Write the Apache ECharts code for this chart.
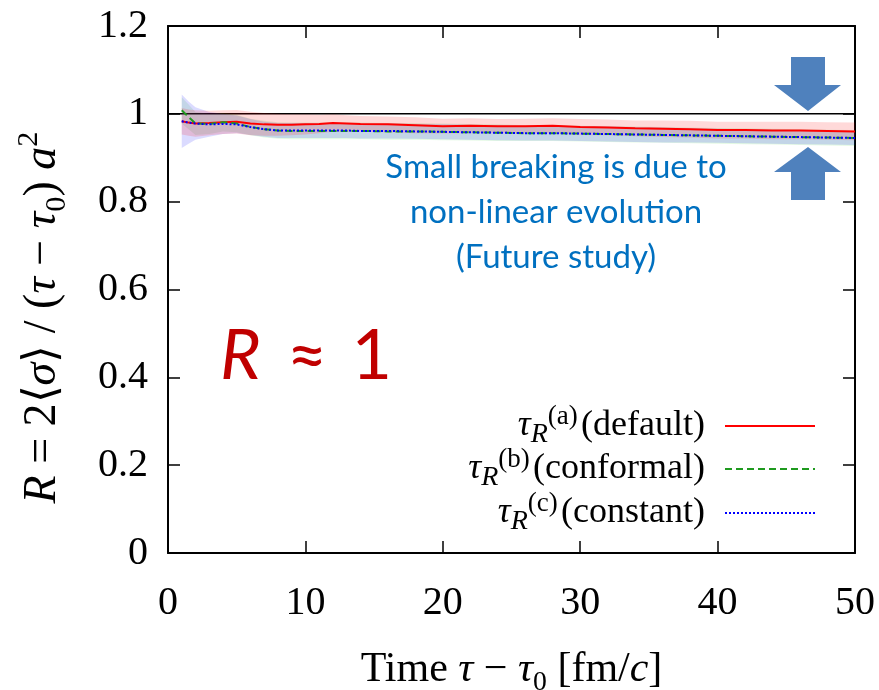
<!DOCTYPE html>
<html style="height: 100%" lang="en">
<head>
    <meta charset="UTF-8">
    <title>R vs time</title>
</head>
<body style="height: 100%; margin: 0; background: #fff">
<div id="main" style="width: 879px; height: 690px"></div>

<script src="https://cdn.jsdelivr.net/npm/echarts@6/dist/echarts.min.js"></script>
<script type="text/javascript">

// time tau - tau0 [fm/c]
var times = [1, 1.5, 2, 3, 4, 5, 6, 7, 8, 9, 10, 11, 12, 13, 14, 16, 18, 20, 22, 24, 26, 28, 30, 32, 34, 36, 38, 40, 42, 44, 46, 48, 50];

// (a) default
var redMean = [0.983, 0.980, 0.978, 0.979, 0.981, 0.982, 0.978, 0.976, 0.975, 0.975, 0.976, 0.977, 0.979, 0.978, 0.977, 0.976, 0.974, 0.972, 0.973, 0.972, 0.972, 0.973, 0.970, 0.969, 0.967, 0.966, 0.965, 0.963, 0.963, 0.962, 0.962, 0.961, 0.960];
var redErr = [0.030, 0.030, 0.030, 0.028, 0.027, 0.027, 0.027, 0.026, 0.025, 0.024, 0.023, 0.021, 0.020, 0.019, 0.018, 0.018, 0.018, 0.017, 0.017, 0.016, 0.017, 0.017, 0.018, 0.018, 0.018, 0.019, 0.019, 0.019, 0.019, 0.020, 0.020, 0.020, 0.020];

// (b) conformal
var greenMean = [1.008, 0.993, 0.978, 0.977, 0.981, 0.978, 0.970, 0.965, 0.962, 0.961, 0.961, 0.961, 0.961, 0.961, 0.961, 0.960, 0.960, 0.959, 0.958, 0.957, 0.956, 0.956, 0.955, 0.954, 0.953, 0.952, 0.951, 0.950, 0.949, 0.948, 0.947, 0.946, 0.945];
var greenErr = [0.030, 0.028, 0.026, 0.023, 0.021, 0.020, 0.019, 0.019, 0.019, 0.019, 0.019, 0.019, 0.019, 0.019, 0.019, 0.019, 0.019, 0.019, 0.019, 0.019, 0.018, 0.018, 0.018, 0.018, 0.018, 0.018, 0.018, 0.018, 0.018, 0.018, 0.018, 0.018, 0.018];

// (c) constant
var blueMean = [0.983, 0.980, 0.978, 0.976, 0.977, 0.976, 0.970, 0.965, 0.962, 0.962, 0.962, 0.962, 0.962, 0.962, 0.961, 0.961, 0.960, 0.959, 0.958, 0.957, 0.956, 0.956, 0.955, 0.954, 0.953, 0.952, 0.951, 0.950, 0.949, 0.948, 0.947, 0.946, 0.945];
var blueErr = [0.061, 0.048, 0.037, 0.028, 0.023, 0.020, 0.018, 0.017, 0.017, 0.017, 0.017, 0.017, 0.017, 0.017, 0.017, 0.017, 0.017, 0.017, 0.017, 0.017, 0.017, 0.017, 0.017, 0.017, 0.017, 0.017, 0.016, 0.016, 0.016, 0.016, 0.016, 0.016, 0.016];

var unityX = [0, 50];
var unityY = [1, 1];

var serif = 'Liberation Serif';
var sans = 'Lato';

function pairs(xs, ys) {
    return xs.map(function (x, i) { return [x, ys[i]]; });
}

// error band as one polygon, coords from the axis scales
function band(mean, err, color) {
    return {
        type: 'custom', silent: true, z: 2,
        data: pairs(times, mean),
        renderItem: function (params, api) {
            if (params.dataIndex !== 0) return;
            var pts = [];
            for (var i = 0; i < times.length; i++) {
                pts.push(api.coord([times[i], mean[i] + err[i]]));
            }
            for (var j = times.length - 1; j >= 0; j--) {
                pts.push(api.coord([times[j], mean[j] - err[j]]));
            }
            return {
                type: 'polygon',
                shape: { points: pts },
                style: { fill: color }
            };
        }
    };
}

var myChart = echarts.init(document.getElementById('main'));

function nameRich(fs) {
    return {
        i: { fontFamily: serif, fontStyle: 'italic', fontSize: fs, lineHeight: fs + 12, verticalAlign: 'middle', color: '#000' },
        n: { fontFamily: serif, fontSize: fs, lineHeight: fs + 12, verticalAlign: 'middle', color: '#000' },
        sub: { fontFamily: serif, fontSize: fs * 0.66, lineHeight: fs * 0.66, verticalAlign: 'bottom', color: '#000' },
        sup: { fontFamily: serif, fontSize: fs * 0.66, lineHeight: fs * 0.66, verticalAlign: 'top', color: '#000' }
    };
}

var legendRich = {
    i: { fontFamily: serif, fontStyle: 'italic', fontSize: 36, lineHeight: 46, verticalAlign: 'middle', fill: '#000' },
    n: { fontFamily: serif, fontSize: 36, lineHeight: 46, verticalAlign: 'middle', fill: '#000' },
    subi: { fontFamily: serif, fontStyle: 'italic', fontSize: 28, lineHeight: 26, verticalAlign: 'bottom', fill: '#000' },
    sup: { fontFamily: serif, fontSize: 27, lineHeight: 24, verticalAlign: 'top', fill: '#000' }
};

var tickRich = { v: { fontFamily: serif, fontSize: 40, color: '#000' } };
function tickFmt(v) { return '{v|' + v + '}'; }

var axisLineStyle = { color: '#000', width: 2 };
var tickStyle = { color: '#000', width: 1.5 };

var series = [];
series.push({
    type: 'line', data: pairs(unityX, unityY), symbol: 'none', silent: true, z: 1,
    lineStyle: { color: '#000', width: 1.5 }
});
series.push(band(greenMean, greenErr, 'rgba(0,200,0,0.11)'));
series.push(band(blueMean, blueErr, 'rgba(0,0,255,0.14)'));
series.push(band(redMean, redErr, 'rgba(255,0,0,0.15)'));
series.push({
    name: 'default', type: 'line', data: pairs(times, redMean), symbol: 'none', z: 5,
    lineStyle: { color: '#ff0000', width: 2 }
});
series.push({
    name: 'conformal', type: 'line', data: pairs(times, greenMean), symbol: 'none', z: 6,
    lineStyle: { color: '#1f9a1f', width: 2, type: [7, 4] }
});
series.push({
    name: 'constant', type: 'line', data: pairs(times, blueMean), symbol: 'none', z: 7,
    lineStyle: { color: '#0000ff', width: 2, type: [2, 2] }
});

function legendEntry(y, sup, label, color, dash) {
    return [{
        type: 'text', x: 705, y: y, z: 100,
        style: {
            text: '{i|τ}{subi|R}{sup|' + sup + '} {n|' + label + '}',
            rich: legendRich, align: 'right', verticalAlign: 'middle'
        }
    }, {
        type: 'line', z: 100,
        shape: { x1: 725, y1: y, x2: 815, y2: y },
        style: { stroke: color, lineWidth: 2, lineDash: dash }
    }];
}

var arrowColor = '#4f81bd';

var graphics = []
    .concat(legendEntry(426, '(a)', '(default)', '#ff0000', null))
    .concat(legendEntry(469, '(b)', '(conformal)', '#1f9a1f', [7, 4]))
    .concat(legendEntry(513, '(c)', '(constant)', '#0000ff', [2, 2]))
    .concat([
        {
            type: 'text', x: 556, y: 212, z: 100,
            style: {
                text: 'Small breaking is due to\nnon-linear evolution\n(Future study)',
                font: '33px Lato',
                fill: '#0070c0', align: 'center', verticalAlign: 'middle', lineHeight: 45
            }
        },
        {
            type: 'text', x: 220, y: 356, z: 100,
            style: {
                text: '{r|R}{a|≈}{b|1}',
                verticalAlign: 'middle',
                rich: {
                    r: { fontFamily: sans, fontStyle: 'italic', fontSize: 70, fill: '#c00000' },
                    a: { fontFamily: sans, fontSize: 70, fill: '#c00000', padding: [0, 0, 0, 26] },
                    b: { fontFamily: sans, fontSize: 70, fill: '#c00000', padding: [0, 0, 0, 24] }
                }
            }
        },
        {
            type: 'polygon', z: 100,
            shape: { points: [[791, 57], [825, 57], [825, 85], [841, 85], [808, 111], [774, 85], [791, 85]] },
            style: { fill: arrowColor }
        },
        {
            type: 'polygon', z: 100,
            shape: { points: [[808, 147], [841, 172], [825, 172], [825, 200], [791, 200], [791, 172], [774, 172]] },
            style: { fill: arrowColor }
        }
    ]);

var option = {
    backgroundColor: '#fff',
    animation: false,
    textStyle: { fontFamily: serif },
    grid: { left: 168, right: 24, top: 26, bottom: 137, outerBoundsMode: 'none', containLabel: false },
    xAxis: [{
        type: 'value', min: 0, max: 50, interval: 10,
        name: '{n|Time} {i|τ} {n|−} {i|τ}{sub|0} {n|[fm/}{i|c}{n|]}',
        nameLocation: 'middle', nameGap: 90,
        nameTextStyle: { fontFamily: serif, fontSize: 42, color: '#000', rich: nameRich(42) },
        axisLine: { onZero: false, lineStyle: axisLineStyle },
        axisTick: { inside: true, length: 12, lineStyle: tickStyle },
        axisLabel: { formatter: tickFmt, rich: tickRich, margin: 30 },
        splitLine: { show: false }
    }, {
        type: 'value', min: 0, max: 50, interval: 10, position: 'top',
        axisLine: { onZero: false, lineStyle: axisLineStyle },
        axisTick: { inside: true, length: 12, lineStyle: tickStyle },
        axisLabel: { show: false },
        splitLine: { show: false }
    }],
    yAxis: [{
        type: 'value', min: 0, max: 1.2, interval: 0.2,
        name: '{i|R} {n|= 2⟨}{i|σ}{n|⟩ / (}{i|τ} {n|−} {i|τ}{sub|0}{n|)} {i|a}{sup|2}',
        nameLocation: 'middle', nameRotate: 90, nameGap: 96,
        nameTextStyle: { fontFamily: serif, fontSize: 46, color: '#000', rich: nameRich(46), padding: [0, 56, 0, 0] },
        axisLine: { onZero: false, lineStyle: axisLineStyle },
        axisTick: { inside: true, length: 12, lineStyle: tickStyle },
        axisLabel: { formatter: tickFmt, rich: tickRich, margin: 20 },
        splitLine: { show: false }
    }, {
        type: 'value', min: 0, max: 1.2, interval: 0.2, position: 'right',
        axisLine: { onZero: false, lineStyle: axisLineStyle },
        axisTick: { inside: true, length: 12, lineStyle: tickStyle },
        axisLabel: { show: false },
        splitLine: { show: false }
    }],
    series: series,
    graphic: graphics
};

myChart.setOption(option);

</script>
</body>
</html>
